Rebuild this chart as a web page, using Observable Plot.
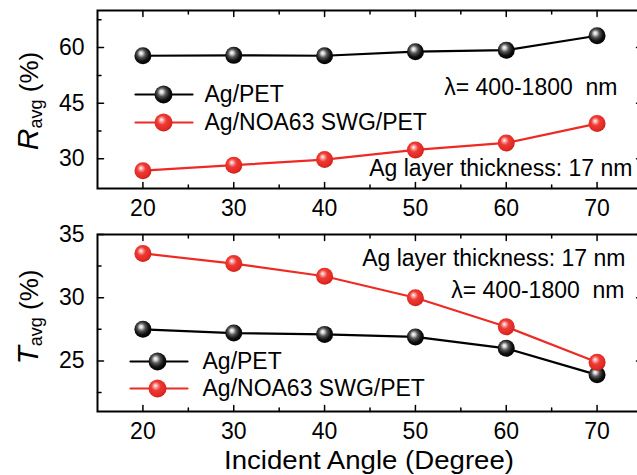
<!DOCTYPE html>
<html><head><meta charset="utf-8">
<script src="https://cdn.jsdelivr.net/npm/d3@7"></script>
<script src="https://cdn.jsdelivr.net/npm/@observablehq/plot@0.6"></script>
<style>
html,body{margin:0;padding:0;background:#fff;overflow:hidden}
#chart{width:637px;height:475px;overflow:hidden;position:relative}
svg{display:block;max-width:none !important}
</style></head><body><div id="chart"></div>
<script>
// ---- data ----
const angles = [20, 30, 40, 50, 60, 70];
const seriesNames = ["Ag/PET", "Ag/NOA63 SWG/PET"];
const rAgPET = [57.8, 57.9, 57.8, 58.9, 59.3, 63.2];
const rSWG = [26.8, 28.3, 29.8, 32.4, 34.3, 39.5];
const tAgPET = [27.5, 27.2, 27.1, 26.9, 26.0, 23.9];
const tSWG = [33.5, 32.7, 31.7, 30.0, 27.7, 24.9];
const xTicks = [20, 30, 40, 50, 60, 70];
const xMinor = [25, 35, 45, 55, 65];
const rTicks = [30, 45, 60];
const rMinor = [37.5, 52.5, 67.5];
const tTicks = [25, 30, 35];
const tMinor = [22.5, 27.5, 32.5];
const annoLambda = "λ= 400-1800\u00a0\u00a0nm";
const annoThick = "Ag layer thickness: 17 nm";
const xTitle = "Incident Angle (Degree)";

// ---- styling ----
const colors = ["#000000", "#ee2a24"];
const fills = ["url(#sphereBlack)", "url(#sphereRed)"];
const FONT = "'Liberation Sans', Arial, Helvetica, sans-serif";
const FS = 23;
const W = 660;

const lineShape = {draw(ctx, l) { ctx.moveTo(0, 0); ctx.lineTo(0, -l); }};

function rows(a, b) {
  return [a, b].flatMap((arr, s) => angles.map((x, i) => ({angle: x, value: arr[i], s})));
}

function tickMarks(yT, yM) {
  const c = {anchor: "start", shape: lineShape, stroke: "#000", strokeWidth: 1.5};
  const xs = (ticks, len) => [
    Plot.vector(ticks, {...c, x: d => d, frameAnchor: "bottom", length: len, rotate: 0}),
    Plot.vector(ticks, {...c, x: d => d, frameAnchor: "top", length: len, rotate: 180})
  ];
  const ys = (ticks, len) => [
    Plot.vector(ticks, {...c, y: d => d, frameAnchor: "left", length: len, rotate: 90}),
    Plot.vector(ticks, {...c, y: d => d, frameAnchor: "right", length: len, rotate: -90})
  ];
  return [
    ...xs(xTicks, 6), ...xs(xMinor, 3.5), ...ys(yT, 6), ...ys(yM, 3.5),
    Plot.axisX(xTicks, {anchor: "bottom", tickSize: 0, tickPadding: 11, fontSize: FS, label: null}),
    Plot.axisY(yT, {anchor: "left", tickSize: 0, tickPadding: 13, fontSize: FS, label: null})
  ];
}

function legend(dxLine, dxDot, dxText, dys) {
  return seriesNames.flatMap((name, s) => [
    Plot.vector([name], {frameAnchor: "top-left", dx: dxLine, dy: dys[s], length: 57, rotate: 90,
      anchor: "start", shape: lineShape, stroke: colors[s], strokeWidth: 2.2}),
    Plot.dot([name], {frameAnchor: "top-left", dx: dxDot, dy: dys[s], r: 9, fill: fills[s]}),
    Plot.text([name], {frameAnchor: "top-left", dx: dxText, dy: dys[s], text: d => d,
      textAnchor: "start", lineAnchor: "middle", fontSize: FS})
  ]);
}

function seriesMarks(data) {
  return [0, 1].flatMap(s => {
    const d = data.filter(r => r.s === s);
    return [
      Plot.line(d, {x: "angle", y: "value", stroke: colors[s], strokeWidth: 2.2}),
      Plot.dot(d, {x: "angle", y: "value", r: 8.5, fill: fills[s]})
    ];
  });
}

// ---- top panel ----
const topChart = Plot.plot({
  width: W, height: 222,
  marginLeft: 97, marginRight: 18, marginTop: 10, marginBottom: 34,
  style: {fontFamily: FONT, color: "#000", background: "#fff", overflow: "visible", maxWidth: "none"},
  x: {domain: [15, 75]},
  y: {domain: [22, 70]},
  marks: [
    ...tickMarks(rTicks, rMinor),
    ...seriesMarks(rows(rAgPET, rSWG)),
    ...legend(38, 66, 107, [84, 112]),
    Plot.text([annoLambda], {frameAnchor: "top-right", dx: -25, dy: 77, text: d => d,
      textAnchor: "end", lineAnchor: "middle", fontSize: FS}),
    Plot.text([annoThick], {frameAnchor: "top-right", dx: -10, dy: 158, text: d => d,
      textAnchor: "end", lineAnchor: "middle", fontSize: FS}),
    Plot.frame({stroke: "#000", strokeWidth: 2})
  ]
});

// ---- bottom panel ----
const bottomChart = Plot.plot({
  width: W, height: 253,
  marginLeft: 97, marginRight: 18, marginTop: 12, marginBottom: 64,
  style: {fontFamily: FONT, color: "#000", background: "#fff", overflow: "visible", maxWidth: "none"},
  x: {domain: [15, 75]},
  y: {domain: [21, 35]},
  marks: [
    ...tickMarks(tTicks, tMinor),
    ...seriesMarks(rows(tAgPET, tSWG)),
    ...legend(33, 60, 105, [127, 154]),
    Plot.text([annoThick], {frameAnchor: "top-right", dx: -17, dy: 24, text: d => d,
      textAnchor: "end", lineAnchor: "middle", fontSize: FS}),
    Plot.text([annoLambda], {frameAnchor: "top-right", dx: -18, dy: 56, text: d => d,
      textAnchor: "end", lineAnchor: "middle", fontSize: FS}),
    Plot.frame({stroke: "#000", strokeWidth: 2})
  ]
});

const chart = document.getElementById("chart");
chart.append(topChart, bottomChart);
[topChart, bottomChart].forEach(s => { s.style.maxWidth = "none"; });

// gradient definitions for the sphere markers
const defs = d3.select(topChart).insert("defs", ":first-child");
function grad(id, stops) {
  const g = defs.append("radialGradient").attr("id", id)
    .attr("cx", 0.45).attr("cy", 0.42).attr("r", 0.6).attr("fx", 0.38).attr("fy", 0.34);
  stops.forEach(([o, c]) => g.append("stop").attr("offset", o).attr("stop-color", c));
}
grad("sphereBlack", [[0, "#ffffff"], [0.15, "#d8d8d8"], [0.4, "#555555"], [0.7, "#111111"], [1, "#000000"]]);
grad("sphereRed", [[0, "#ffffff"], [0.15, "#f8b0ae"], [0.42, "#ee3a34"], [0.8, "#e32a24"], [1, "#c41e18"]]);

// y-axis titles with italic symbol and subscript
function yTitle(svg, sym, cy) {
  const t = d3.select(svg).append("text")
    .attr("transform", `translate(38,${cy}) rotate(-90)`)
    .attr("text-anchor", "middle")
    .attr("font-family", FONT).attr("fill", "#000");
  t.append("tspan").attr("font-size", 30).attr("font-style", "italic").text(sym);
  t.append("tspan").attr("font-size", 18).attr("dy", 4).text("avg");
  t.append("tspan").attr("font-size", 26).attr("dy", -4).text(" (%)");
}
yTitle(topChart, "R", 101);
yTitle(bottomChart, "T", 95);

d3.select(bottomChart).append("text")
  .attr("x", 369).attr("y", 240)
  .attr("text-anchor", "middle").attr("dominant-baseline", "middle")
  .attr("font-family", FONT).attr("font-size", 26).attr("fill", "#000")
  .attr("textLength", 290).attr("lengthAdjust", "spacingAndGlyphs")
  .text(xTitle);
</script>
</body></html>
